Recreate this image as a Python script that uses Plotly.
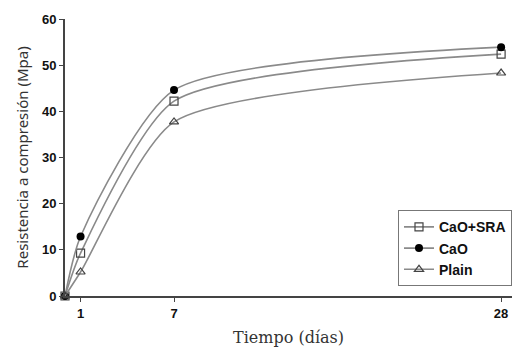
import plotly.graph_objects as go

days = [0, 1, 7, 28]
cao_sra = [0, 9.3, 42.2, 52.4]
cao = [0, 12.9, 44.6, 53.9]
plain = [0, 5.2, 37.7, 48.3]
x_ticks = [1, 7, 28]
y_ticks = [0, 10, 20, 30, 40, 50, 60]

fig = go.Figure()
series = [
    ("<b>CaO+SRA</b>", cao_sra, dict(symbol="square-open", size=8, color="#444", line=dict(width=1.2, color="#444"))),
    ("<b>CaO</b>", cao, dict(symbol="circle", size=8, color="#000")),
    ("<b>Plain</b>", plain, dict(symbol="triangle-up-open", size=8, color="#444", line=dict(width=1.2, color="#444"))),
]
for name, vals, mk in series:
    fig.add_trace(go.Scatter(
        x=days, y=vals, name=name, mode="lines+markers",
        line=dict(shape="spline", smoothing=0.65, color="#8a8a8a", width=1.6),
        marker=mk, cliponaxis=False,
    ))

fig.update_layout(
    width=512, height=351,
    margin=dict(l=65, r=0, t=19, b=55),
    paper_bgcolor="white", plot_bgcolor="white",
    showlegend=True,
    legend=dict(
        x=1.0, xanchor="right", y=0.035, yanchor="bottom",
        bordercolor="#777", borderwidth=1, bgcolor="white",
        font=dict(family="Liberation Sans", size=14, color="#111"),
        tracegroupgap=0, itemwidth=30,
    ),
    font=dict(family="Liberation Sans", color="#222"),
)
fig.update_xaxes(
    range=[0, 28.7], tickvals=x_ticks, ticktext=["<b>%d</b>" % v for v in x_ticks],
    showgrid=False, zeroline=False,
    showline=True, linecolor="#444", linewidth=2,
    ticks="outside", ticklen=4, tickcolor="#444",
    tickfont=dict(family="Liberation Sans", size=13, color="#111"),
    title=dict(text="Tiempo (días)", font=dict(family="DejaVu Serif", size=16, color="#333"), standoff=12),
)
fig.update_yaxes(
    range=[0, 60], tickvals=y_ticks, ticktext=["<b>%d</b>" % v for v in y_ticks],
    showgrid=False, zeroline=False,
    showline=True, linecolor="#444", linewidth=2,
    ticks="outside", ticklen=4, tickcolor="#444",
    tickfont=dict(family="Liberation Sans", size=13, color="#111"),
    title=dict(text="Resistencia a compresión (Mpa)", font=dict(family="Noto Sans", size=15, color="#333"), standoff=10),
)
fig.write_html("out.html")
